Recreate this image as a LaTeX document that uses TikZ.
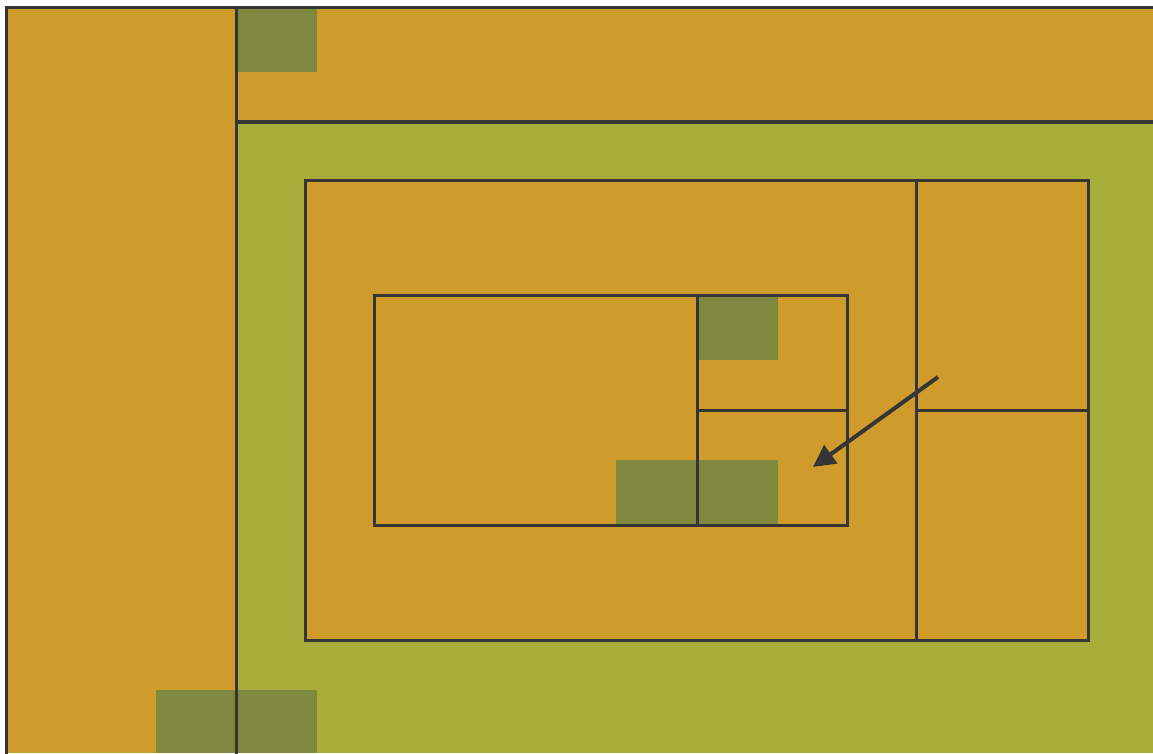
\documentclass[tikz,border=0pt]{standalone}
\usetikzlibrary{arrows.meta}
\definecolor{ochre}{HTML}{CF9B2A}
\definecolor{olive}{HTML}{A7AD38}
\definecolor{moss}{HTML}{7E883E}
\definecolor{ink}{HTML}{353535}
\tikzset{
  edge/.style={draw=ink, line width=3pt},
  thick edge/.style={draw=ink, line width=3.6pt},
  patch/.style={fill=moss},
}
\begin{document}
\begin{tikzpicture}[x=1pt,y=-1pt]
\useasboundingbox (0,0) rectangle (1153,753);
\fill[white] (0,0) rectangle (1153,753);
% base fills
\fill[ochre] (6,7) rectangle (1153,753);
\fill[olive] (236,122) rectangle (1153,753);
\fill[ochre] (305,180) rectangle (1088,640);
% dark patches
\fill[patch] (237,8) rectangle (317,72);
\fill[patch] (698,296) rectangle (778,360);
\fill[patch] (616,460) rectangle (778,525);
\fill[patch] (156,690) rectangle (317,753);
% outer frame
\draw[edge] (6,760) -- (6,7) -- (1160,7);
\draw[edge] (236,7) -- (236,760);
\draw[thick edge] (236,122) -- (1160,122);
% middle rectangle
\draw[edge] (305,180) rectangle (1088,640);
\draw[edge] (916,180) -- (916,640);
\draw[edge] (916,410) -- (1088,410);
% inner rectangle
\draw[edge] (374,295) rectangle (847,525);
\draw[edge] (697,295) -- (697,525);
\draw[edge] (697,410) -- (847,410);
% arrow
\coordinate (from) at (938,377);
\coordinate (to) at (813,467);
\draw[draw=ink, line width=4pt, -{Triangle[length=22pt,width=22pt]}] (from) -- (to);
\end{tikzpicture}
\end{document}
